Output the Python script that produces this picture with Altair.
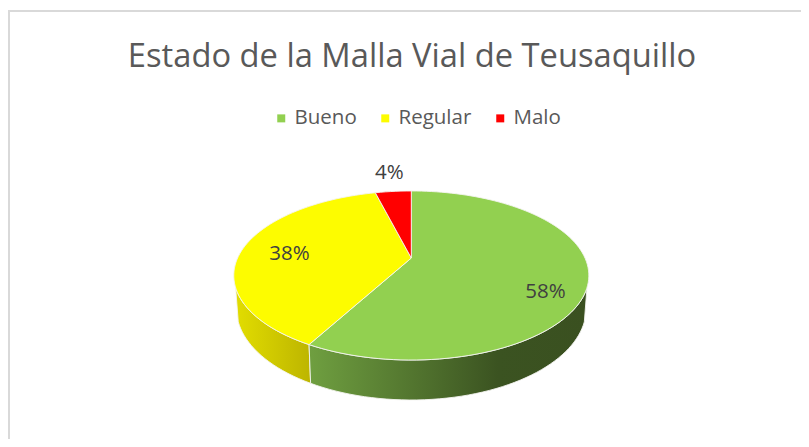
import math
import altair as alt
import pandas as pd

categories = ["Bueno", "Regular", "Malo"]
shares = [58, 38, 4]
labels = ["58%", "38%", "4%"]
colors = ["#92d050", "#fdfc00", "#ff0000"]

# projection of the tilted disc
CX, APEX_Y, RX, RY, K, DEPTH, SHRINK = 411.3, 258.0, 173.7, 80.9, 0.207, 31.7, 0.985


def top(theta, r=1.0):
    t = math.radians(theta)
    sx, sz = r * math.sin(t), r * math.cos(t)
    d = 1 + K * sz
    return CX + RX * sx / d, APEX_Y - RY * sz / d


def bottom(theta):
    t = math.radians(theta)
    sx, sz = math.sin(t), math.cos(t)
    d = 1 + K * sz
    return CX + SHRINK * RX * sx / d, APEX_Y + (DEPTH - RY * sz) / d


def sweep(a, b, step=2.0):
    n = max(2, int(abs(b - a) / step))
    return [a + (b - a) * i / n for i in range(n + 1)]


total = sum(shares)
edges = [0.0]
for s in shares:
    edges.append(edges[-1] + 360.0 * s / total)


def wedge_frame(a, b):
    pts = [(CX, APEX_Y)] + [top(t) for t in sweep(a, b)] + [(CX, APEX_Y)]
    return pd.DataFrame({"x": [p[0] for p in pts], "y": [p[1] for p in pts], "o": range(len(pts))})


def side_frame(a, b):
    pts = [top(t) for t in sweep(a, b)] + [bottom(t) for t in sweep(b, a)]
    pts.append(pts[0])
    return pd.DataFrame({"x": [p[0] for p in pts], "y": [p[1] for p in pts], "o": range(len(pts))})


xs = alt.Scale(domain=[8, 801], range=[0, 793], nice=False, zero=False)
ys = alt.Scale(domain=[439, 74], nice=False, zero=False)
X = alt.X("x:Q", scale=xs, axis=None)
Y = alt.Y("y:Q", scale=ys, axis=None)


def poly(df, fill):
    return (
        alt.Chart(df)
        .mark_line(fill=fill, stroke="#f4f4f0", strokeWidth=0.9, interpolate="linear")
        .encode(x=X, y=Y, order="o:Q")
    )


def grad(stops):
    return alt.Gradient(
        gradient="linear", x1=0, x2=1, y1=0, y2=0,
        stops=[alt.GradientStop(color=c, offset=o) for o, c in stops],
    )


layers = [
    poly(side_frame(edges[1], 250), grad([(0, "#e2dd00"), (1, "#bdb500")])),
    poly(side_frame(110, edges[1]), grad([(0, "#6f9f40"), (0.68, "#3b5321"), (1, "#3a5020")])),
]
for i in range(3):
    layers.append(poly(wedge_frame(edges[i], edges[i + 1]), colors[i]))

# percentage labels
radii = [0.75, 0.75, 1.2]
nudges = [(3, 18), (5, 3), (-1, -8)]
for i in range(3):
    px, py = top((edges[i] + edges[i + 1]) / 2, radii[i])
    layers.append(
        alt.Chart(pd.DataFrame({"x": [px], "y": [py], "t": [labels[i]]}))
        .mark_text(font="Open Sans", fontSize=20.5, color="#404040", dx=nudges[i][0], dy=nudges[i][1])
        .encode(x=X, y=Y, text="t:N")
    )

# frame
layers.append(
    alt.Chart(pd.DataFrame({"x": [8], "x2": [801], "y": [11]}))
    .mark_rule(color="#d9d9d9", strokeWidth=2, clip=False)
    .encode(x=X, x2="x2:Q", y=Y)
)
layers.append(
    alt.Chart(pd.DataFrame({"x": [9], "y": [11], "y2": [439]}))
    .mark_rule(color="#d9d9d9", strokeWidth=2, clip=False)
    .encode(x=X, y=Y, y2="y2:Q")
)

# legend carrier
layers.append(
    alt.Chart(pd.DataFrame({"c": categories}))
    .mark_square(opacity=0, size=1)
    .encode(
        x=alt.value(0),
        y=alt.value(0),
        color=alt.Color(
            "c:N",
            scale=alt.Scale(domain=categories, range=colors),
            legend=alt.Legend(
                title=None,
                orient="none",
                direction="horizontal",
                legendX=263,
                legendY=34,
                symbolType="square",
                symbolSize=64,
                symbolOpacity=1,
                symbolStrokeWidth=0,
                labelFont="Open Sans",
                labelFontSize=20.5,
                labelColor="#595959",
                labelOffset=3,
                columnPadding=18,
                padding=0,
            ),
        ),
    )
)

chart = (
    alt.layer(*layers)
    .properties(
        width=793,
        height=365,
        padding={"left": 0, "right": 0, "top": 66, "bottom": 0},
        autosize=alt.AutoSizeParams(type="none"),
        title=alt.TitleParams(
            "Estado de la Malla Vial de Teusaquillo",
            font="Open Sans",
            fontSize=32.7,
            fontWeight="normal",
            color="#595959",
            anchor="middle",
            offset=-64,
            dx=7.5,
        ),
    )
    .configure_view(stroke=None)
)

chart.save("out.html", embed_options={"renderer": "svg", "actions": False})
